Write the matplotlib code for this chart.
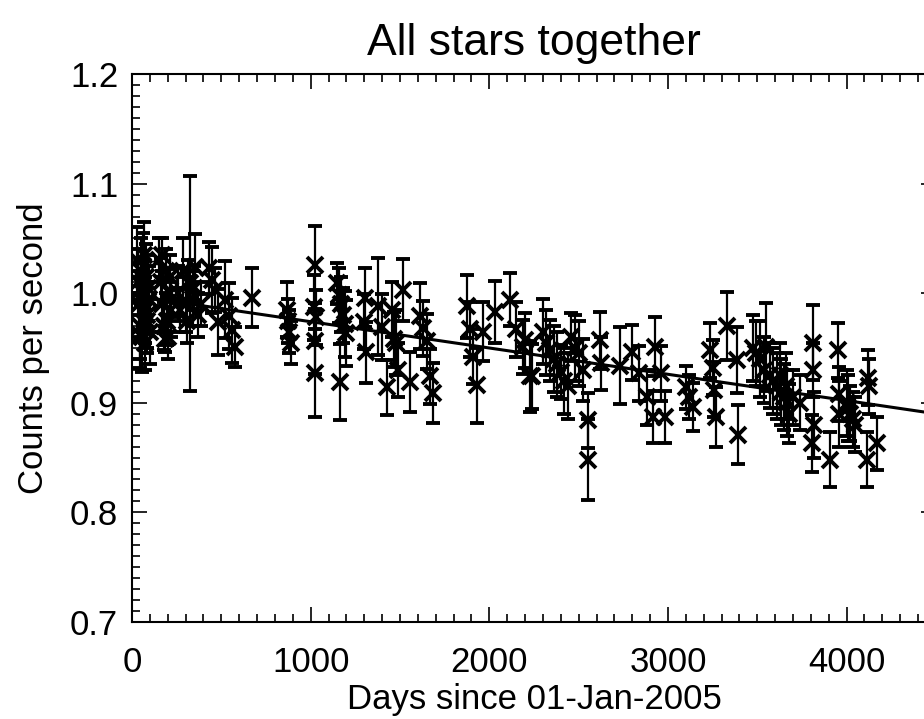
import numpy as np
import matplotlib.pyplot as plt
from matplotlib.ticker import MultipleLocator

plt.rcParams['font.family'] = ['Liberation Sans', 'DejaVu Sans']

# Observations: days since 01-Jan-2005, count rate, 1-sigma error
days = [30, 35, 40, 45, 50, 55, 60, 65, 70, 75, 80, 85, 90, 95, 100, 62, 47, 82,
        150, 160, 170, 180, 190, 200, 210, 220, 165, 195, 185, 215,
        255, 270, 285, 300, 315, 325, 340, 355, 370, 385, 305, 345,
        430, 450, 465, 480,
        520, 540, 560, 575,
        670,
        865, 873, 880, 888,
        1024, 1020, 1028, 1022, 1026,
        1150, 1160, 1170, 1180, 1190, 1200, 1165,
        1305, 1300, 1310,
        1375, 1400, 1430,
        1455, 1465, 1480, 1490,
        1516, 1555,
        1610, 1630, 1650, 1670, 1685,
        1875, 1890, 1910, 1930,
        1965, 2030,
        2115, 2150, 2190, 2225, 2200, 2240,
        2300, 2320, 2340, 2360, 2380, 2400, 2420, 2440, 2460, 2480, 2500, 2525,
        2620, 2625, 2550, 2552,
        2730,
        2800, 2840, 2880, 2915,
        2925, 2960, 2985,
        3100, 3120, 3140,
        3235, 3250, 3260, 3270,
        3330, 3385, 3390,
        3475, 3495, 3515, 3535, 3550, 3570, 3590, 3610, 3630, 3650, 3665, 3680,
        3625, 3660, 3700, 3740,
        3810, 3812, 3815, 3808,
        3905,
        3950, 3955, 3960,
        4000, 4010, 4020, 4035, 4045,
        4120, 4125, 4115, 4170]
counts = [1.030, 1.010, 0.990, 0.970, 1.020, 0.960, 1.000, 1.035, 0.955, 0.985, 1.015, 0.975, 1.005, 0.995, 0.965, 1.025, 0.962, 0.980,
          1.030, 1.010, 0.990, 0.970, 1.020, 0.960, 1.000, 0.985, 1.035, 0.975, 0.958, 1.015,
          1.000, 0.985, 1.020, 0.990, 1.010, 1.009, 0.995, 1.024, 0.980, 0.990, 0.975, 1.005,
          1.023, 1.012, 1.003, 0.974,
          0.994, 0.979, 0.966, 0.951,
          0.996,
          0.985, 0.975, 0.965, 0.955,
          1.026, 0.987, 0.978, 0.956, 0.927,
          1.009, 0.998, 0.990, 0.980, 0.972, 0.964, 0.919,
          0.996, 0.974, 0.946,
          0.988, 0.969, 0.914,
          0.985, 0.958, 0.955, 0.930,
          1.003, 0.919,
          0.979, 0.968, 0.956, 0.924, 0.909,
          0.988, 0.967, 0.942, 0.916,
          0.965, 0.983,
          0.994, 0.967, 0.951, 0.924, 0.957, 0.924,
          0.965, 0.955, 0.948, 0.940, 0.935, 0.928, 0.920, 0.915, 0.960, 0.950, 0.945, 0.930,
          0.957, 0.936, 0.884, 0.848,
          0.934,
          0.946, 0.927, 0.905, 0.887,
          0.951, 0.927, 0.887,
          0.914, 0.905, 0.896,
          0.948, 0.932, 0.912, 0.887,
          0.970, 0.939, 0.871,
          0.950, 0.945, 0.940, 0.930, 0.951, 0.925, 0.920, 0.915, 0.910, 0.905, 0.900, 0.890,
          0.925, 0.915, 0.905, 0.900,
          0.955, 0.930, 0.880, 0.863,
          0.848,
          0.948, 0.908, 0.890,
          0.900, 0.895, 0.890, 0.885, 0.880,
          0.923, 0.915, 0.848, 0.863]
errors = [0.030, 0.030, 0.030, 0.030, 0.030, 0.032, 0.030, 0.030, 0.025, 0.030, 0.030, 0.030, 0.030, 0.030, 0.030, 0.030, 0.030, 0.030,
          0.020, 0.022, 0.025, 0.022, 0.020, 0.020, 0.022, 0.025, 0.015, 0.022, 0.012, 0.020,
          0.025, 0.020, 0.030, 0.025, 0.020, 0.098, 0.025, 0.030, 0.020, 0.020, 0.020, 0.020,
          0.024, 0.030, 0.020, 0.030,
          0.035, 0.030, 0.030, 0.018,
          0.027,
          0.025, 0.020, 0.020, 0.020,
          0.035, 0.030, 0.025, 0.030, 0.040,
          0.019, 0.025, 0.025, 0.025, 0.030, 0.030, 0.035,
          0.027, 0.025, 0.028,
          0.044, 0.030, 0.025,
          0.025, 0.025, 0.030, 0.025,
          0.028, 0.027,
          0.030, 0.025, 0.025, 0.025, 0.027,
          0.029, 0.025, 0.025, 0.034,
          0.027, 0.028,
          0.024, 0.025, 0.025, 0.032, 0.025, 0.030,
          0.030, 0.030, 0.028, 0.030, 0.030, 0.025, 0.030, 0.030, 0.022, 0.030, 0.030, 0.028,
          0.026, 0.024, 0.025, 0.037,
          0.035,
          0.025, 0.025, 0.025, 0.024,
          0.027, 0.025, 0.024,
          0.020, 0.020, 0.022,
          0.025, 0.025, 0.025, 0.027,
          0.031, 0.030, 0.027,
          0.030, 0.030, 0.035, 0.030, 0.040, 0.030, 0.030, 0.030, 0.030, 0.030, 0.030, 0.027,
          0.030, 0.030, 0.025, 0.025,
          0.034, 0.025, 0.030, 0.026,
          0.025,
          0.025, 0.025, 0.030,
          0.030, 0.030, 0.025, 0.025, 0.025,
          0.025, 0.025, 0.025, 0.024]

# linear trend fit
fit_intercept = 0.998
fit_slope = -2.4e-5
fit_days = [0, 4500]

fig = plt.figure(figsize=(9.24, 7.19), dpi=100)
ax = fig.add_axes([0.1429, 0.135, 0.870, 0.762])

ax.errorbar(days, counts, yerr=errors, fmt='x', color='black', ms=11, mew=2.8,
            elinewidth=1.6, capsize=5, capthick=1.6)
fit_line = fit_intercept + fit_slope * np.array(fit_days)
ax.plot(fit_days, fit_line, color='black', lw=2.2)

ax.set_xlim(0, 4500)
ax.set_ylim(0.7, 1.2)
ax.xaxis.set_major_locator(MultipleLocator(1000))
ax.xaxis.set_minor_locator(MultipleLocator(100))
ax.yaxis.set_major_locator(MultipleLocator(0.1))
ax.yaxis.set_minor_locator(MultipleLocator(0.01))
ax.tick_params(which='both', direction='in', top=True, right=True, width=1.2)
ax.tick_params(which='major', length=11, labelsize=25)
ax.tick_params(axis='x', which='major', pad=17)
ax.tick_params(axis='y', which='major', pad=10)
ax.tick_params(which='minor', length=5.5)
for s in ax.spines.values():
    s.set_linewidth(1.5)

ax.set_title('All stars together', fontsize=32, pad=14)
ax.set_xlabel('Days since 01-Jan-2005', fontsize=25, labelpad=3)
ax.set_ylabel('Counts per second', fontsize=25, labelpad=14)

fig.savefig('out.png', dpi=100)
